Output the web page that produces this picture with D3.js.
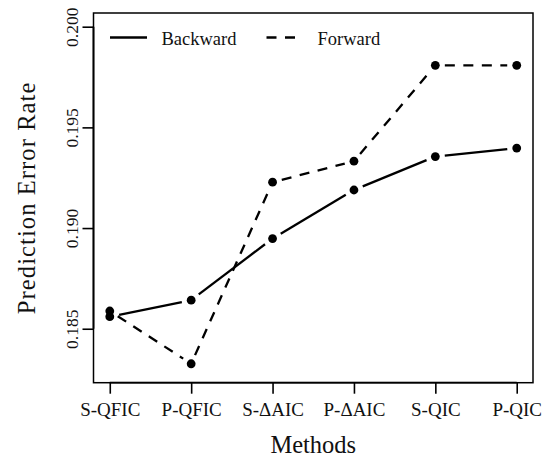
<!DOCTYPE html>
<html>
<head>
<meta charset="utf-8">
<script src="https://cdn.jsdelivr.net/npm/d3@7"></script>
<style>
  html, body { margin: 0; padding: 0; background: #fff; }
  svg { display: block; }
  svg text { font-family: "Liberation Serif", serif; }
</style>
</head>
<body>
<svg id="chart" width="542" height="458"></svg>
<script>
// Prediction error rate by selection method, backward vs forward search
const methods = ["S-QFIC", "P-QFIC", "S-\u0394AIC", "P-\u0394AIC", "S-QIC", "P-QIC"];
const backward = [0.18560, 0.18642, 0.18948, 0.19189, 0.19355, 0.19397];
const forward  = [0.18588, 0.18326, 0.19228, 0.19332, 0.19808, 0.19808];
const yTicks = [0.185, 0.190, 0.195, 0.200];
const yLimits = [0.183, 0.200];
const seriesNames = ["Backward", "Forward"];

const FONT = "'Liberation Serif', serif";
const svg = d3.select("#chart");
const plot = { left: 93.5, right: 533, top: 13, bottom: 382.7 };

// R-style 4% expansion of the y limits
const ext = (yLimits[1] - yLimits[0]) * 0.04;
const y = d3.scaleLinear()
  .domain([yLimits[0] - ext, yLimits[1] + ext])
  .range([plot.bottom, plot.top]);
const x = d3.scalePoint()
  .domain(methods)
  .range([plot.left, plot.right])
  .padding(0.2);

// plot box
svg.append("rect")
  .attr("x", plot.left).attr("y", plot.top)
  .attr("width", plot.right - plot.left).attr("height", plot.bottom - plot.top)
  .attr("fill", "none").attr("stroke", "#000").attr("stroke-width", 1.5);

// x axis
const xAxis = svg.append("g")
  .attr("transform", `translate(0,${plot.bottom})`)
  .call(d3.axisBottom(x).tickSize(11).tickPadding(8).tickSizeOuter(0));
xAxis.attr("font-family", null);
xAxis.select(".domain")
  .attr("d", `M${x(methods[0])},0H${x(methods[methods.length - 1])}`)
  .attr("stroke-width", 1.8);
xAxis.selectAll(".tick line").attr("stroke-width", 1.6);
xAxis.selectAll(".tick text")
  .style("font-family", FONT)
  .attr("font-size", 19).attr("fill", "#111")
  .attr("dy", null).attr("y", 33.5);

// y axis
const yAxis = svg.append("g")
  .attr("transform", `translate(${plot.left},0)`)
  .call(d3.axisLeft(y).tickValues(yTicks).tickFormat(d3.format(".3f")).tickSize(11).tickSizeOuter(0));
yAxis.attr("font-family", null);
yAxis.select(".domain")
  .attr("d", `M0,${y(yTicks[0])}V${y(yTicks[yTicks.length - 1])}`)
  .attr("stroke-width", 1.8);
yAxis.selectAll(".tick line").attr("stroke-width", 1.6);
yAxis.selectAll(".tick text")
  .style("font-family", FONT)
  .attr("font-size", 17.5).attr("fill", "#111")
  .attr("x", null).attr("dy", null)
  .attr("text-anchor", "middle")
  .attr("transform", "translate(-16,0) rotate(-90)");

// axis titles
svg.append("text")
  .attr("x", (plot.left + plot.right) / 2).attr("y", 453)
  .attr("text-anchor", "middle")
  .style("font-family", FONT)
  .attr("font-size", 24.5).attr("fill", "#111")
  .text("Methods");
svg.append("text")
  .attr("transform", `translate(35,${(plot.top + plot.bottom) / 2}) rotate(-90)`)
  .attr("text-anchor", "middle")
  .style("font-family", FONT)
  .attr("font-size", 24.5).attr("letter-spacing", 1.1).attr("fill", "#111")
  .text("Prediction Error Rate");

// series drawn as points joined by segments that stop short of each point
const gap = 9.5;
const dash = ["none", "10,8.5"];
[backward, forward].forEach((vals, si) => {
  const pts = vals.map((v, i) => [x(methods[i]), y(v)]);
  const g = svg.append("g");
  for (let i = 0; i < pts.length - 1; i++) {
    const [x0, y0] = pts[i], [x1, y1] = pts[i + 1];
    const len = Math.hypot(x1 - x0, y1 - y0);
    if (len <= 2 * gap) continue;
    const ux = (x1 - x0) / len, uy = (y1 - y0) / len;
    g.append("line")
      .attr("x1", x0 + ux * gap).attr("y1", y0 + uy * gap)
      .attr("x2", x1 - ux * gap).attr("y2", y1 - uy * gap)
      .attr("stroke", "#000").attr("stroke-width", 2.3)
      .attr("stroke-dasharray", dash[si]);
  }
  g.selectAll("circle").data(pts).join("circle")
    .attr("cx", d => d[0]).attr("cy", d => d[1]).attr("r", 4.4)
    .attr("fill", "#000");
});

// legend
const legend = svg.append("g");
const legendItems = [
  { name: seriesNames[0], x1: 110, x2: 147, tx: 161.5, dash: dash[0] },
  { name: seriesNames[1], x1: 266.5, x2: 295, tx: 317.5, dash: dash[1] }
];
legendItems.forEach(it => {
  legend.append("line")
    .attr("x1", it.x1).attr("x2", it.x2).attr("y1", 37.5).attr("y2", 37.5)
    .attr("stroke", "#000").attr("stroke-width", 2.3)
    .attr("stroke-dasharray", it.dash);
  legend.append("text")
    .attr("x", it.tx).attr("y", 45)
    .style("font-family", FONT)
    .attr("font-size", 18.5).attr("fill", "#111")
    .text(it.name);
});
</script>
</body>
</html>
